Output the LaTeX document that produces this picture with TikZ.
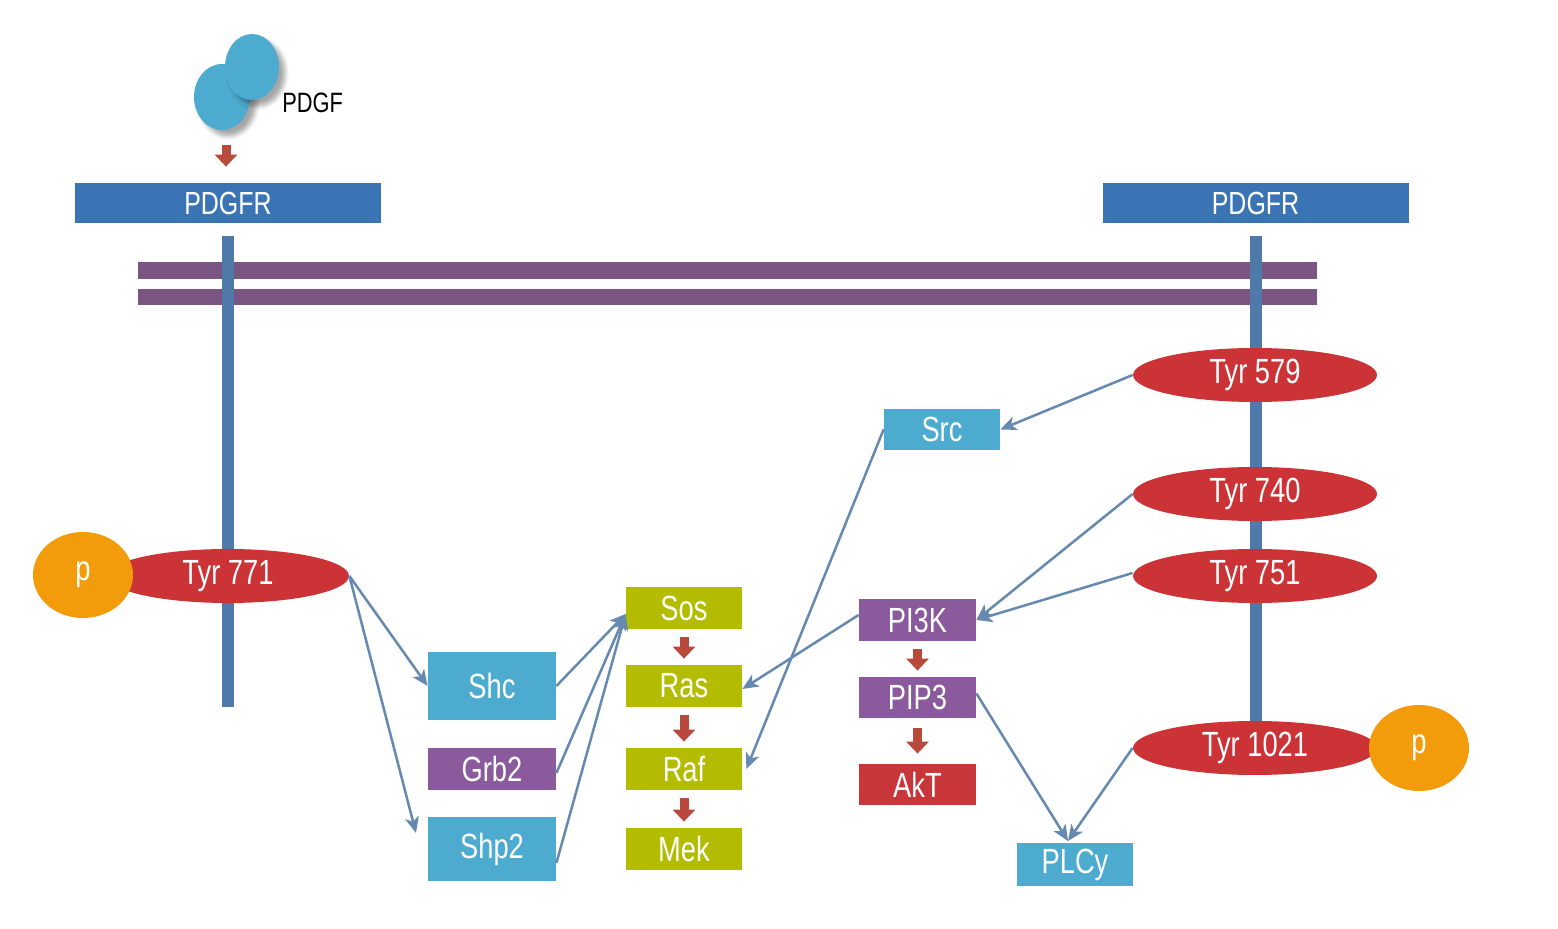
\documentclass[tikz,border=0pt]{standalone}
\usepackage{fontspec}
\setmainfont{Liberation Sans}[FakeStretch=0.78]
\usetikzlibrary{shapes.geometric,arrows.meta,shadows.blur}
\definecolor{rcpt}{HTML}{3A74B5}
\definecolor{stalkc}{HTML}{4F79A9}
\definecolor{memb}{HTML}{7B5683}
\definecolor{tyrc}{HTML}{CB3336}
\definecolor{orangec}{HTML}{F29B0B}
\definecolor{lblue}{HTML}{4DABD0}
\definecolor{olive}{HTML}{B4BC00}
\definecolor{purp}{HTML}{8B5A9C}
\definecolor{aktc}{HTML}{C9363A}
\definecolor{arrred}{HTML}{B9493A}
\definecolor{conn}{HTML}{6589B0}
\def\pxu{0.5pt}
\tikzset{
  box/.style={rectangle, inner sep=0pt, text=white, font=\fontsize{17.5pt}{20pt}\selectfont, minimum width=116*\pxu, minimum height=42*\pxu},
  tyr/.style={ellipse, inner sep=0pt, fill=tyrc, text=white, font=\fontsize{17.5pt}{20pt}\selectfont, minimum width=244*\pxu, minimum height=54*\pxu},
  phos/.style={ellipse, inner sep=0pt, fill=orangec, text=white, font=\fontsize{17.5pt}{20pt}\selectfont, minimum width=100*\pxu, minimum height=86*\pxu},
  rcptbox/.style={rectangle, inner sep=0pt, fill=rcpt, text=white, font=\fontsize{16pt}{18pt}\selectfont, minimum width=306*\pxu, minimum height=40*\pxu},
  conarrow/.style={draw=conn, line width=1.25pt, -{Stealth[length=8pt,width=7pt,inset=2.2pt]}},
  redarrow/.style={draw=arrred, line width=4.5pt, -{Triangle[length=6pt,width=11pt]}},
  ligand/.style={ellipse, inner sep=0pt, fill=lblue, blur shadow={shadow xshift=3pt, shadow yshift=-3pt, shadow blur steps=6, shadow opacity=35}}
}
\begin{document}
\begin{tikzpicture}[x=0.5pt,y=-0.5pt]
\useasboundingbox (0,0) rectangle (1558,929);
% membrane
\fill[memb] (138,262) rectangle (1317,279);
\fill[memb] (138,289) rectangle (1317,305);
% stalks
\fill[stalkc] (222,236) rectangle (234,707);
\fill[stalkc] (1250,236) rectangle (1262,735);
% receptors
\node[rcptbox] (R1) at (228,203) {PDGFR};
\node[rcptbox] (R2) at (1255.5,203) {PDGFR};
% ligand
\node[ligand, minimum width=56*\pxu, minimum height=66*\pxu] (L1) at (222,97) {};
\node[ligand, minimum width=54*\pxu, minimum height=66*\pxu] (L2) at (252,67) {};
\node[anchor=west, inner sep=0pt, font=\fontsize{14pt}{16pt}\selectfont] (PDGF) at (282,103) {PDGF};
\coordinate (la) at (226,145);
\draw[redarrow] (la) -- (la |- R1.north) [shorten >=16*\pxu];
% tyrosines
\node[tyr, minimum width=242*\pxu] (T771) at (228,576) {Tyr 771};
\node[phos] (P1) at (83,575) {p};
\node[tyr] (T579) at (1255,375) {Tyr 579};
\node[tyr] (T740) at (1255,494) {Tyr 740};
\node[tyr] (T751) at (1255,576) {Tyr 751};
\node[tyr] (T1021) at (1255,748) {Tyr 1021};
\node[phos] (P2) at (1419,748) {p};
% boxes
\node[box, fill=lblue, minimum width=128*\pxu, minimum height=68*\pxu] (Shc) at (492,686) {Shc};
\node[box, fill=purp, minimum width=128*\pxu] (Grb2) at (492,769) {Grb2};
\node[box, fill=lblue, minimum width=128*\pxu, minimum height=64*\pxu] (Shp2) at (492,849) {Shp2};
\node[box, fill=olive] (Sos) at (684,608) {Sos};
\node[box, fill=olive] (Ras) at (684,686) {Ras};
\node[box, fill=olive] (Raf) at (684,769) {Raf};
\node[box, fill=olive] (Mek) at (684,849) {Mek};
\node[box, fill=lblue, minimum height=41*\pxu] (Src) at (942,429.5) {Src};
\node[box, fill=purp, minimum width=117*\pxu] (PI3K) at (917.5,620) {PI3K};
\node[box, fill=purp, minimum width=117*\pxu, minimum height=41*\pxu] (PIP3) at (917.5,697.5) {PIP3};
\node[box, fill=aktc, minimum width=117*\pxu, minimum height=41*\pxu] (AkT) at (917.5,784.5) {AkT};
\node[box, fill=lblue, minimum height=43*\pxu] (PLCy) at (1075,864.5) {PLCy};
% red cascade arrows
\draw[redarrow, shorten <=8*\pxu, shorten >=6*\pxu] (Sos.south) -- (Ras.north);
\draw[redarrow, shorten <=8*\pxu, shorten >=6*\pxu] (Ras.south) -- (Raf.north);
\draw[redarrow, shorten <=8*\pxu, shorten >=6*\pxu] (Raf.south) -- (Mek.north);
\draw[redarrow, shorten <=8*\pxu, shorten >=6*\pxu] (PI3K.south) -- (PIP3.north);
\draw[redarrow, shorten <=10*\pxu, shorten >=10*\pxu] (PIP3.south) -- (AkT.north);
% connectors
\draw[conarrow] (T771.east) -- (Shc.west);
\coordinate (shp2in) at (416,833);
\draw[conarrow] (T771.east) -- (shp2in);
\draw[conarrow] (Shc.east) -- ([yshift=-6*\pxu]Sos.west);
\draw[conarrow] ([yshift=-4*\pxu]Grb2.east) -- ([yshift=-6*\pxu]Sos.west);
\draw[conarrow] ([yshift=-14*\pxu]Shp2.east) -- ([yshift=-6*\pxu]Sos.west);
\draw[conarrow] (T579.west) -- (Src.east);
\draw[conarrow] (Src.west) -- ([xshift=4*\pxu]Raf.east);
\draw[conarrow] (T740.west) -- (PI3K.east);
\draw[conarrow] ([yshift=3*\pxu]T751.west) -- (PI3K.east);
\draw[conarrow] ([yshift=5*\pxu]PI3K.west) -- ([yshift=-3*\pxu]Ras.east);
\coordinate (plcin) at (1068,841);
\draw[conarrow] ([yshift=4*\pxu]PIP3.east) -- (plcin);
\draw[conarrow] (T1021.west) -- (plcin);
\end{tikzpicture}
\end{document}
